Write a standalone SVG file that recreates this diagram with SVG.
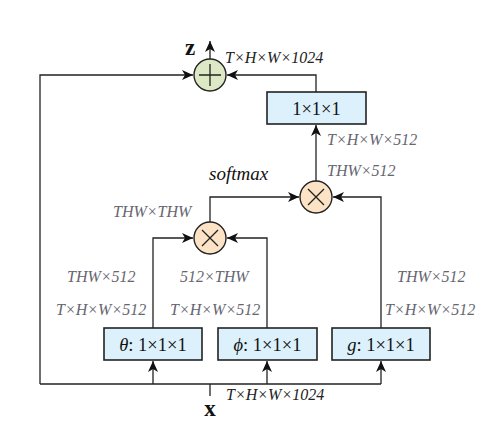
<svg xmlns="http://www.w3.org/2000/svg" width="495" height="426" viewBox="0 0 495 426">
<style>
.ln{fill:none;stroke:#222;stroke-width:1.3}
.box{fill:#dcf1fb;stroke:#222;stroke-width:1.6}
.plus{fill:#dde9c4;stroke:#222;stroke-width:1.4}
.mul{fill:#fde3c6;stroke:#222;stroke-width:1.4}
.sym{fill:none;stroke:#222;stroke-width:1.3}
.lbl{font-family:"Liberation Serif",serif;font-style:italic;font-size:16px;fill:#666670}
.dk{font-family:"Liberation Serif",serif;font-style:italic;font-size:16px;fill:#222}
.sm{font-family:"Liberation Serif",serif;font-style:italic;font-size:19px;fill:#111}
.bt{font-family:"Liberation Serif",serif;font-size:18.5px;fill:#111;text-anchor:middle}
.var{font-family:"Liberation Serif",serif;font-weight:bold;font-size:23px;fill:#111;text-anchor:middle}
</style>
<defs>
<marker id="ah" markerWidth="12" markerHeight="10" refX="11" refY="5" orient="auto" markerUnits="userSpaceOnUse">
<path d="M0,0 L11,5 L0,10 L3,5 z" fill="#111"/>
</marker>
</defs>
<g id="connectors">
<path class="ln" d="M210,384 V396"/>
<path class="ln" d="M40,384 H381"/>
<path class="ln" d="M40,384 V75 H193" marker-end="url(#ah)"/>
<path class="ln" d="M153,384 V361" marker-end="url(#ah)"/>
<path class="ln" d="M267,384 V361" marker-end="url(#ah)"/>
<path class="ln" d="M381,384 V361" marker-end="url(#ah)"/>
<path class="ln" d="M153,328 V238 H193" marker-end="url(#ah)"/>
<path class="ln" d="M267,328 V238 H227" marker-end="url(#ah)"/>
<path class="ln" d="M210,222 V197 H299" marker-end="url(#ah)"/>
<path class="ln" d="M381,328 V197 H333" marker-end="url(#ah)"/>
<path class="ln" d="M316,181 V125" marker-end="url(#ah)"/>
<path class="ln" d="M316,92 V75 H227" marker-end="url(#ah)"/>
<path class="ln" d="M210,59 V41" marker-end="url(#ah)"/>
</g>
<g id="plus">
<circle class="plus" cx="210" cy="75" r="16"/>
<path class="sym" d="M199,75 H221 M210,64 V86"/>
</g>
<g id="mul1">
<circle class="mul" cx="210" cy="238" r="16"/>
<path class="sym" d="M202,230 L218,246 M218,230 L202,246"/>
</g>
<g id="mul2">
<circle class="mul" cx="316" cy="197" r="16"/>
<path class="sym" d="M308,189 L324,205 M324,189 L308,205"/>
</g>
<g id="box-out">
<rect class="box" x="267" y="92" width="99" height="32"/>
<text class="bt" x="316.5" y="114.5">1×1×1</text>
</g>
<g id="box-theta">
<rect class="box" x="104" y="328" width="98" height="32"/>
<text class="bt" x="153" y="350.5"><tspan font-style="italic">θ</tspan>: 1×1×1</text>
</g>
<g id="box-phi">
<rect class="box" x="218" y="328" width="99" height="32"/>
<text class="bt" x="267.5" y="350.5"><tspan font-style="italic">ϕ</tspan>: 1×1×1</text>
</g>
<g id="box-g">
<rect class="box" x="332" y="328" width="98" height="32"/>
<text class="bt" x="381" y="350.5"><tspan font-style="italic">g</tspan>: 1×1×1</text>
</g>
<g id="labels">
<text class="var" x="190" y="55">z</text>
<text class="var" x="210" y="416">x</text>
<text class="dk" x="225" y="63">T×H×W×1024</text>
<text class="dk" x="226" y="400">T×H×W×1024</text>
<text class="lbl" x="327" y="145">T×H×W×512</text>
<text class="lbl" x="327" y="176">THW×512</text>
<text class="sm" x="209" y="180">softmax</text>
<text class="lbl" x="113" y="217">THW×THW</text>
<text class="lbl" x="67" y="282">THW×512</text>
<text class="lbl" x="56" y="315">T×H×W×512</text>
<text class="lbl" x="180" y="282">512×THW</text>
<text class="lbl" x="170" y="315">T×H×W×512</text>
<text class="lbl" x="397" y="282">THW×512</text>
<text class="lbl" x="385" y="315">T×H×W×512</text>
</g>
</svg>
